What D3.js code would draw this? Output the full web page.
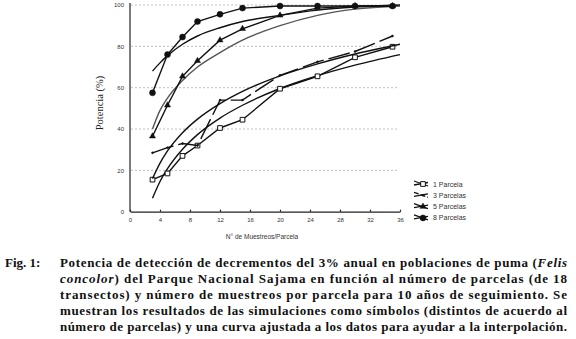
<!DOCTYPE html>
<html>
<head>
<meta charset="utf-8">
<script src="https://cdn.jsdelivr.net/npm/d3@7"></script>
<style>
  body { margin: 0; background: #fff; }
  svg { display: block; }
</style>
</head>
<body>
<script>
// muestreos por parcela
var xTicks = [0, 4, 8, 12, 16, 20, 24, 28, 32, 36];
var yTicks = [0, 20, 40, 60, 80, 100];

// simulaciones (simbolos)
var xSim = [3, 5, 7, 9, 12, 15, 20, 25, 30, 35];
var sim1 = [15.5, 18.5, 27, 32, 40.5, 44.5, 59.5, 65.5, 74.7, 79.8];
var sim3 = [28.5, 31, 33, 32, 54, 54, 66, 72.5, 77.5, 85];
var sim5 = [36.5, 51.5, 65.5, 73, 83, 88.5, 95, 98.5, 99.5, 99.5];
var sim8 = [57.5, 76, 84.5, 92, 95.5, 98.5, 99.5, 99.5, 99.5, 99.5];

// curvas ajustadas
var xFit = [3, 4, 5, 7, 9, 12, 15, 20, 25, 30, 36];
var fit1 = [6.5, 14.6, 20.8, 30.2, 37.3, 45.3, 51.5, 59.6, 65.8, 70.9, 76];
var fit3 = [16, 23.5, 29.4, 38.2, 44.8, 52.3, 58.2, 65.7, 71.5, 76.3, 81];
var fit5 = [40, 49, 55, 63.5, 70, 77, 83, 90, 95, 98, 99.5];
var fit8 = [68, 72, 75.5, 81, 85, 89, 92, 95, 97.5, 99, 100];

var legendLabels = ["1 Parcela", "3 Parcelas", "5 Parcelas", "8 Parcelas"];

var w = 576, h = 339;

var svg = d3.select("body").append("svg")
    .attr("width", w)
    .attr("height", h);

var x = d3.scaleLinear().domain([0, 36]).range([130, 400]);
var y = d3.scaleLinear().domain([0, 100]).range([211.7, 5]);

// grid
svg.append("g").selectAll("line")
    .data(yTicks.filter(function (d) { return d > 0; }))
    .enter().append("line")
    .attr("x1", x(0) + 1).attr("x2", x(35.8))
    .attr("y1", function (d) { return y(d); })
    .attr("y2", function (d) { return y(d); })
    .attr("stroke", "#b0b0b0")
    .attr("stroke-width", 0.8)
    .attr("stroke-dasharray", "2,2");

// axes
var xAxis = svg.append("g")
    .attr("transform", "translate(0," + y(0) + ")")
    .call(d3.axisBottom(x).tickValues(xTicks).tickSizeInner(-2).tickSizeOuter(0).tickPadding(6));
var yAxis = svg.append("g")
    .attr("transform", "translate(" + x(0) + ",0)")
    .call(d3.axisLeft(y).tickValues(yTicks).tickSize(0).tickPadding(6));

[xAxis, yAxis].forEach(function (g) {
    g.selectAll("path, line").attr("stroke", "#222").attr("stroke-width", 1.2);
    g.selectAll("text")
        .attr("font-family", "Liberation Sans, Arial, sans-serif")
        .attr("font-size", 6)
        .attr("fill", "#333");
});
yAxis.select(".domain").attr("d", "M0,3V" + y(0));

svg.append("text")
    .attr("transform", "translate(103,103)rotate(-90)")
    .attr("text-anchor", "middle")
    .attr("font-family", "Liberation Serif, Times New Roman, serif")
    .attr("font-size", 10.5)
    .attr("fill", "#222")
    .text("Potencia (%)");

svg.append("text")
    .attr("x", 262).attr("y", 239)
    .attr("text-anchor", "middle")
    .attr("font-family", "Liberation Sans, Arial, sans-serif")
    .attr("font-size", 6.5)
    .attr("fill", "#333")
    .text("N° de Muestreos/Parcela");

function pts(xs, ys) {
    return xs.map(function (d, i) { return [d, ys[i]]; });
}

var lineLin = d3.line()
    .x(function (d) { return x(d[0]); })
    .y(function (d) { return y(d[1]); });
var lineFit = d3.line()
    .curve(d3.curveMonotoneX)
    .x(function (d) { return x(d[0]); })
    .y(function (d) { return y(d[1]); });

var series = [
    { sim: sim1, fit: fit1, sym: "square", dash: null, fitColor: "#111" },
    { sim: sim3, fit: fit3, sym: "small", dash: "22,5", fitColor: "#111" },
    { sim: sim5, fit: fit5, sym: "triangle", dash: null, fitColor: "#555" },
    { sim: sim8, fit: fit8, sym: "circle", dash: null, fitColor: "#111" }
];

function symbolPath(sym) {
    if (sym === "square") return d3.symbol().type(d3.symbolSquare).size(22)();
    if (sym === "triangle") return d3.symbol().type(d3.symbolTriangle).size(16)();
    if (sym === "circle") return d3.symbol().type(d3.symbolCircle).size(28)();
    return d3.symbol().type(d3.symbolCircle).size(3)();
}

series.forEach(function (s) {
    svg.append("path")
        .attr("d", lineFit(pts(xFit, s.fit)))
        .attr("fill", "none")
        .attr("stroke", s.fitColor)
        .attr("stroke-width", 1.4);

    svg.append("path")
        .attr("d", lineLin(pts(xSim, s.sim)))
        .attr("fill", "none")
        .attr("stroke", "#111")
        .attr("stroke-width", 1.4)
        .attr("stroke-dasharray", s.dash);

    svg.append("g").selectAll("path")
        .data(pts(xSim, s.sim))
        .enter().append("path")
        .attr("transform", function (d) { return "translate(" + x(d[0]) + "," + y(d[1]) + ")"; })
        .attr("d", symbolPath(s.sym))
        .attr("fill", s.sym === "square" ? "#fff" : "#111")
        .attr("stroke", "#111")
        .attr("stroke-width", s.sym === "square" ? 1 : 0.5);
});

// legend
var legend = svg.append("g").selectAll("g")
    .data(legendLabels)
    .enter().append("g")
    .attr("transform", function (d, i) { return "translate(0," + (184 + i * 11.3) + ")"; });

legend.append("line")
    .attr("x1", 414).attr("y1", -3).attr("x2", 428).attr("y2", 2)
    .attr("stroke", "#111").attr("stroke-width", 1.3)
    .attr("stroke-dasharray", function (d, i) { return series[i].dash ? "5,2" : null; });
legend.append("line")
    .attr("x1", 414).attr("y1", 1).attr("x2", 428).attr("y2", -1.5)
    .attr("stroke", "#111").attr("stroke-width", 1.3);
legend.append("path")
    .attr("transform", "translate(423,0)")
    .attr("d", function (d, i) { return symbolPath(series[i].sym); })
    .attr("fill", function (d, i) { return series[i].sym === "square" ? "#fff" : "#111"; })
    .attr("stroke", "#111")
    .attr("stroke-width", function (d, i) { return series[i].sym === "square" ? 1 : 0.5; });
legend.append("text")
    .attr("x", 433).attr("y", 2.5)
    .attr("font-family", "Liberation Sans, Arial, sans-serif")
    .attr("font-size", 7)
    .attr("fill", "#333")
    .text(function (d) { return d; });

// caption
var captionLines = [
    [["Potencia de detección de decrementos del 3% anual en poblaciones de puma (", false], ["Felis", true]],
    [["concolor", true], [") del Parque Nacional Sajama en función al número de parcelas (de 18", false]],
    [["transectos) y número de muestreos por parcela para 10 años de seguimiento. Se", false]],
    [["muestran los resultados de las simulaciones como símbolos (distintos de acuerdo al", false]],
    [["número de parcelas) y una curva ajustada a los datos para ayudar a la interpolación.", false]]
];

var cap = svg.append("g")
    .attr("font-family", "Liberation Serif, Times New Roman, serif")
    .attr("font-weight", "bold")
    .attr("font-size", 13)
    .attr("fill", "#111");

cap.append("text").attr("x", 5).attr("y", 267).text("Fig. 1:");

captionLines.forEach(function (parts, i) {
    var t = cap.append("text")
        .attr("x", 60)
        .attr("y", 267 + i * 16)
        .attr("textLength", 507)
        .attr("lengthAdjust", "spacing");
    parts.forEach(function (p) {
        t.append("tspan")
            .attr("font-style", p[1] ? "italic" : "normal")
            .text(p[0]);
    });
});
</script>
</body>
</html>
